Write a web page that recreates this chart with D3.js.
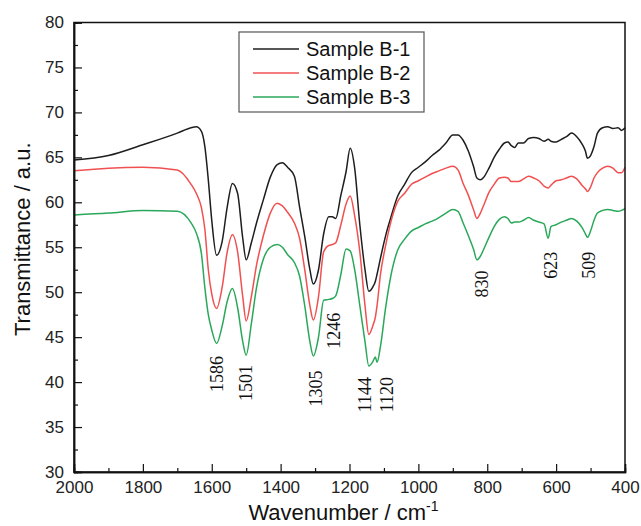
<!DOCTYPE html>
<html>
<head>
<meta charset="utf-8">
<script src="https://cdn.jsdelivr.net/npm/d3@7"></script>
<style>
  body { margin: 0; background: #fff; }
  svg { display: block; font-family: "Liberation Sans", Arial, sans-serif; }
</style>
</head>
<body>
<svg width="641" height="526"></svg>
<script>
//wavenumbers (cm-1) shared by the three spectra
var wavenumbers = [2000, 1900, 1800, 1700, 1660, 1645, 1630, 1620, 1610, 1600, 1586, 1570, 1555, 1540, 1525,
  1510, 1500, 1485, 1470, 1450, 1430, 1410, 1395, 1380, 1360, 1345, 1330, 1315, 1305, 1290, 1275, 1260,
  1250, 1240, 1225, 1210, 1198, 1185, 1170, 1155, 1144, 1132, 1125, 1120, 1110, 1095, 1080, 1060, 1040,
  1020, 1000, 980, 960, 940, 920, 900, 885, 870, 855, 840, 830, 820, 810, 795, 780, 765, 750, 740, 730,
  720, 710, 695, 680, 665, 650, 635, 623, 615, 600, 585, 570, 555, 540, 525, 515, 509, 500, 490, 480,
  465, 450, 435, 420, 410, 400];

var sampleB1 = [64.7, 65.2, 66.4, 67.7, 68.3, 68.4, 67.9, 66.2, 62.5, 58.0, 54.1, 55.6, 59.5, 62.1, 61.0,
  56.0, 53.6, 55.5, 57.7, 60.3, 62.8, 64.2, 64.4, 63.9, 62.9, 59.5, 56.2, 52.5, 50.9, 52.5, 56.5, 58.4,
  58.4, 58.2, 60.8, 63.4, 66.0, 63.8, 57.5, 52.5, 50.1, 50.6, 51.2, 52.0, 53.8, 56.3, 58.3, 60.7, 62.0,
  63.3, 63.9, 64.5, 65.2, 65.8, 66.6, 67.5, 67.5, 66.9, 65.7, 64.0, 62.7, 62.5, 62.8, 63.8, 65.0, 65.9,
  66.6, 66.7, 66.3, 66.1, 66.6, 66.6, 67.1, 67.2, 67.1, 66.8, 67.0, 66.8, 66.7, 67.0, 67.3, 67.7, 67.3,
  66.5, 65.7, 64.9, 65.2, 66.2, 67.7, 68.3, 68.4, 68.2, 68.3, 68.0, 68.3];

var sampleB2 = [63.5, 63.8, 63.9, 63.6, 62.0, 61.0, 59.4, 57.0, 52.5, 49.8, 48.2, 50.5, 54.5, 56.4, 54.5,
  49.5, 46.8, 49.5, 53.0, 56.3, 58.8, 59.9, 59.6, 58.9, 57.7, 56.0, 52.5, 48.5, 46.9, 49.5, 54.5, 55.2,
  55.3, 55.5, 57.5, 59.8, 60.7, 58.5, 54.5, 48.5, 45.3, 46.3, 47.2, 48.5, 52.0, 55.2, 57.8, 60.1, 61.0,
  62.0, 62.4, 62.8, 63.2, 63.5, 63.8, 64.0, 63.6, 62.1, 60.8, 59.2, 58.2, 58.8, 59.7, 61.1, 62.0, 62.7,
  62.8, 62.7, 62.3, 62.3, 62.3, 62.6, 62.9, 62.7, 62.4, 61.8, 61.6, 61.9, 62.4, 62.5, 62.7, 62.9, 62.6,
  61.9, 61.5, 61.2, 61.7, 62.7, 63.3, 63.8, 64.0, 63.8, 63.3, 63.3, 63.9];

var sampleB3 = [58.6, 58.8, 59.1, 59.0, 57.7, 56.6, 54.3, 50.5, 47.5, 45.8, 44.3, 46.2, 49.0, 50.4, 48.3,
  44.5, 43.0, 46.5, 50.5, 53.7, 55.0, 55.3, 55.0, 54.2, 53.3, 51.8, 48.5, 44.5, 42.9, 45.0, 49.1, 49.2,
  49.3, 49.6, 52.0, 54.8, 54.6, 52.5, 48.5, 44.5, 41.8, 42.3, 42.8, 42.2, 44.0, 48.3, 51.8, 54.7, 55.9,
  56.8, 57.2, 57.6, 57.9, 58.3, 58.8, 59.2, 59.0, 57.7, 56.3, 54.8, 53.6, 54.0, 54.8, 56.1, 57.3, 58.1,
  58.4, 58.2, 57.7, 57.8, 57.8, 58.0, 58.3, 58.0, 57.8, 57.6, 56.0, 57.3, 57.5, 57.8, 58.0, 58.2, 57.9,
  57.2, 56.5, 56.1, 56.8, 58.0, 58.8, 59.1, 59.2, 59.1, 59.0, 59.1, 59.3];

var seriesNames = ["Sample B-1", "Sample B-2", "Sample B-3"];
var seriesColors = ["#1e1e1e", "#f05050", "#2aa85a"];

//peak labels: text, wavenumber where the label sits, transmittance of label centre
var peakText = ["1586", "1501", "1305", "1246", "1144", "1120", "830", "623", "509"];
var peakLabelWn = [1586, 1501, 1297, 1246, 1155, 1092, 816, 614, 504];
var peakLabelT = [40.9, 39.9, 39.3, 45.7, 38.6, 38.6, 50.9, 53.0, 53.0];

var xTicks = [2000, 1800, 1600, 1400, 1200, 1000, 800, 600, 400];
var xMinor = [1900, 1700, 1500, 1300, 1100, 900, 700, 500];
var yTicks = [30, 35, 40, 45, 50, 55, 60, 65, 70, 75, 80];
var yMinor = [32.5, 37.5, 42.5, 47.5, 52.5, 57.5, 62.5, 67.5, 72.5, 77.5];

var svg = d3.select("svg"),
    plot = { left: 74, right: 625, top: 22.5, bottom: 472 };

var x = d3.scaleLinear().domain([2000, 400]).range([plot.left, plot.right]);
var y = d3.scaleLinear().domain([30, 80]).range([plot.bottom, plot.top]);

//spectra
var allSeries = [sampleB1, sampleB2, sampleB3];
var line = d3.line()
    .x(function (d) { return x(d[0]); })
    .y(function (d) { return y(d[1]); })
    .curve(d3.curveMonotoneX);

svg.append("g").selectAll("path")
    .data(allSeries)
    .enter()
    .append("path")
    .attr("fill", "none")
    .attr("stroke", function (d, i) { return seriesColors[i]; })
    .attr("stroke-width", 1.5)
    .attr("stroke-linejoin", "round")
    .attr("d", function (vals) {
        return line(wavenumbers.map(function (w, i) { return [w, vals[i]]; }));
    });

//frame
svg.append("rect")
    .attr("x", plot.left).attr("y", plot.top)
    .attr("width", plot.right - plot.left).attr("height", plot.bottom - plot.top)
    .attr("fill", "none").attr("stroke", "#111").attr("stroke-width", 1.5);

//axes, ticks point inside
svg.append("g")
    .attr("transform", "translate(0," + plot.bottom + ")")
    .call(d3.axisBottom(x).tickValues(xTicks).tickSize(-8).tickPadding(9).tickFormat(d3.format("d")));
svg.append("g")
    .attr("transform", "translate(0," + plot.bottom + ")")
    .call(d3.axisBottom(x).tickValues(xMinor).tickSize(-4).tickFormat(""));

svg.append("g")
    .attr("transform", "translate(" + plot.left + ",0)")
    .call(d3.axisLeft(y).tickValues(yTicks).tickSize(-8).tickPadding(10).tickFormat(d3.format("d")));
svg.append("g")
    .attr("transform", "translate(" + plot.left + ",0)")
    .call(d3.axisLeft(y).tickValues(yMinor).tickSize(-4).tickFormat(""));

svg.selectAll(".domain").attr("stroke", "#111").attr("stroke-width", 1.5);
svg.selectAll(".tick line").attr("stroke", "#111").attr("stroke-width", 1.2);
svg.selectAll(".tick text")
    .attr("font-family", "Liberation Sans, Arial, sans-serif")
    .attr("font-size", 17)
    .attr("fill", "#222");

//axis titles
svg.append("text")
    .attr("transform", "translate(30," + ((plot.top + plot.bottom) / 2 - 8) + ") rotate(-90)")
    .attr("text-anchor", "middle")
    .attr("font-size", 22)
    .attr("fill", "#111")
    .text("Transmittance / a.u.");

var xt = svg.append("text")
    .attr("x", (plot.left + plot.right) / 2 - 6)
    .attr("y", 520)
    .attr("text-anchor", "middle")
    .attr("font-size", 22)
    .attr("fill", "#111");
xt.append("tspan").text("Wavenumber / cm");
xt.append("tspan").attr("dy", -9).attr("font-size", 14).text("-1");

//peak labels
svg.append("g").selectAll("text")
    .data(peakText)
    .enter()
    .append("text")
    .attr("transform", function (d, i) {
        return "translate(" + x(peakLabelWn[i]) + "," + y(peakLabelT[i]) + ") rotate(-90)";
    })
    .attr("text-anchor", "middle")
    .attr("dy", "0.33em")
    .attr("font-family", "Liberation Serif, Times New Roman, serif")
    .attr("font-size", 18)
    .attr("fill", "#111")
    .text(function (d) { return d; });

//legend
var legend = svg.append("g").attr("transform", "translate(239,32)");
legend.append("rect")
    .attr("width", 185).attr("height", 80)
    .attr("fill", "#fff").attr("stroke", "#555").attr("stroke-width", 1.2);
var item = legend.selectAll(".item")
    .data(seriesNames)
    .enter()
    .append("g")
    .attr("class", "item")
    .attr("transform", function (d, i) { return "translate(0," + (17 + i * 24) + ")"; });
item.append("line")
    .attr("x1", 14).attr("x2", 60)
    .attr("stroke", function (d, i) { return seriesColors[i]; })
    .attr("stroke-width", 1.5);
item.append("text")
    .attr("x", 67).attr("dy", "0.35em")
    .attr("font-size", 20)
    .attr("fill", "#111")
    .text(function (d) { return d; });
</script>
</body>
</html>
